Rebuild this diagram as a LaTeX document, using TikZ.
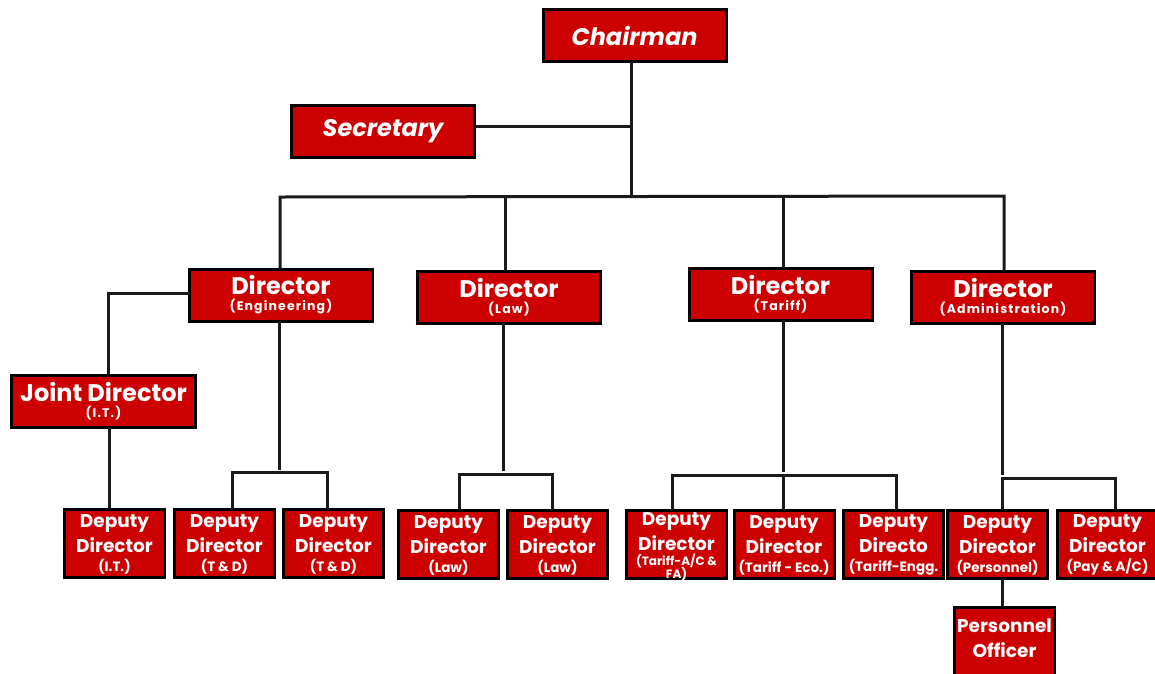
\documentclass[tikz,border=0pt]{standalone}
\usepackage{fontspec}
\setmainfont{Poppins}
\newfontfamily\subf[LetterSpace=9]{Poppins}
\definecolor{boxred}{HTML}{CC0000}
\definecolor{linegray}{HTML}{1A1A1A}
\begin{document}
\begin{tikzpicture}[x=1pt,y=-1pt,
  box/.style={draw=black, line width=3pt, fill=boxred, inner sep=0pt, outer sep=0pt},
  bigbox/.style={box, minimum width=183, minimum height=52},
  depbox/.style={box, minimum width=100, minimum height=68},
  ttl/.style={text=white, align=center, inner sep=0pt, font=\bfseries\fontsize{24}{22}\selectfont},
  ital/.style={text=white, inner sep=0pt, font=\bfseries\itshape\fontsize{24}{26}\selectfont},
  dtxt/.style={text=white, align=center, inner sep=0pt, font=\bfseries\fontsize{18.5}{25}\selectfont},
  conn/.style={draw=linegray, line width=3pt}]
\useasboundingbox (0,0) rectangle (1155,673);
\newcommand{\subt}[1]{{\subf\bfseries\fontsize{12.5}{13}\selectfont #1}}
\newcommand{\dsub}[1]{{\bfseries\fontsize{13.5}{14}\selectfont #1}}
\newcommand{\dsubs}[1]{{\bfseries\fontsize{12}{12}\selectfont #1}}

% top level
\node[bigbox] (ch) at (634.5,35.5) {};
\node[ital] (ch-t) at (ch.center) {Chairman};
\node[bigbox] (sec) at (383,131.5) {};
\node[ital] (sec-t) at (sec.center) {Secretary};

% directors
\node[bigbox] (deng) at (281,295) {};
\node[ttl] (deng-t) at (deng.center) {Director\\[-6pt]\subt{(Engineering)}};
\node[bigbox] (dlaw) at (509,297) {};
\node[ttl] (dlaw-t) at (dlaw.center) {Director\\[-6pt]\subt{(Law)}};
\node[bigbox] (dtar) at (780.5,294) {};
\node[ttl] (dtar-t) at (dtar.center) {Director\\[-6pt]\subt{(Tariff)}};
\node[bigbox] (dadm) at (1003,297) {};
\node[ttl] (dadm-t) at (dadm.center) {Director\\[-6pt]\subt{(Administration)}};
\node[bigbox, minimum width=184] (jd) at (103.5,401) {};
\node[ttl] (jd-t) at (jd.center) {Joint Director\\[-6pt]\subt{(I.T.)}};

% deputies
\node[depbox] (dit) at (114.5,543) {};
\node[dtxt] (dit-t) at ([yshift=-1]dit.center) {Deputy\\Director\\[-6pt]\dsub{(I.T.)}};
\node[depbox] (dtd1) at (224.5,543) {};
\node[dtxt] (dtd1-t) at ([yshift=-1]dtd1.center) {Deputy\\Director\\[-6pt]\dsub{(T \& D)}};
\node[depbox] (dtd2) at (333.5,543) {};
\node[dtxt] (dtd2-t) at ([yshift=-1]dtd2.center) {Deputy\\Director\\[-6pt]\dsub{(T \& D)}};
\node[depbox] (dl1) at (448.5,544) {};
\node[dtxt] (dl1-t) at ([yshift=-1]dl1.center) {Deputy\\Director\\[-6pt]\dsub{(Law)}};
\node[depbox] (dl2) at (557.5,544) {};
\node[dtxt] (dl2-t) at ([yshift=-1]dl2.center) {Deputy\\Director\\[-6pt]\dsub{(Law)}};
\node[depbox] (dta) at (676.5,544) {};
\node[dtxt] (dta-t) at ([yshift=-3]dta.center) {Deputy\\Director\\[-10pt]\dsubs{(Tariff-A/C \&}\\[-12pt]\dsubs{FA)}};
\node[depbox] (dte) at (784,544) {};
\node[dtxt] (dte-t) at ([yshift=-1]dte.center) {Deputy\\Director\\[-6pt]\dsub{(Tariff - Eco.)}};
\node[depbox] (dtg) at (893.5,544) {};
\node[dtxt] (dtg-t) at ([yshift=-1]dtg.center) {Deputy\\Directo\\[-6pt]\dsub{(Tariff-Engg.}};
\node[depbox] (dper) at (997.5,544) {};
\node[dtxt] (dper-t) at ([yshift=-1]dper.center) {Deputy\\Director\\[-6pt]\dsub{(Personnel)}};
\node[depbox] (dpay) at (1107.5,544) {};
\node[dtxt] (dpay-t) at ([yshift=-1]dpay.center) {Deputy\\Director\\[-6pt]\dsub{(Pay \& A/C)}};
\node[depbox, minimum height=72] (po) at (1004.5,643) {};
\node[dtxt] (po-t) at ([yshift=5]po.center) {Personnel\\Officer};

% connectors
\coordinate (bus) at (631,196);
\draw[conn] ([xshift=-3.5]ch.south) -- (bus);
\draw[conn] (sec.east |- 0,126) -- (631,126);
\draw[conn] ([xshift=-1]deng.north) -- ++(0,-72) -- ([xshift=1]dadm.north |- bus) -- ([xshift=1]dadm.north);
\draw[conn] ([xshift=-4]dlaw.north |- bus) -- ([xshift=-4]dlaw.north);
\draw[conn] ([xshift=2.5]dtar.north |- bus) -- ([xshift=2.5]dtar.north);
% engineering branch
\draw[conn] (deng.west |- 0,293) -- (108.5,293) -- (108.5,0 |- jd.north);
\draw[conn] (109,0 |- jd.south) -- (109,0 |- dit.north);
\draw[conn] ([xshift=-2]deng.south) -- ++(0,149);
\draw[conn] ([xshift=8]dtd1.north) -- ++(0,-37) -| ([xshift=-6.5]dtd2.north);
% law branch
\draw[conn] ([xshift=-6]dlaw.south) -- ++(0,148);
\draw[conn] ([xshift=10.5]dl1.north) -- ++(0,-36) -| ([xshift=-5.5]dl2.north);
% tariff branch
\draw[conn] ([xshift=2.5]dtar.south) -- ++(0,152);
\draw[conn] ([xshift=-4.5]dta.north) -- ++(0,-35) -| ([xshift=2.5]dtg.north);
\draw[conn] ([xshift=-1]dte.north) -- ++(0,-35);
% administration branch
\draw[conn] ([xshift=-1]dadm.south) -- ++(0,152);
\draw[conn] ([xshift=5]dper.north) -- ++(0,-32) -| ([xshift=7.5]dpay.north);
\draw[conn] ([xshift=5]dper.south) -- ([xshift=-2]po.north);
\end{tikzpicture}
\end{document}
